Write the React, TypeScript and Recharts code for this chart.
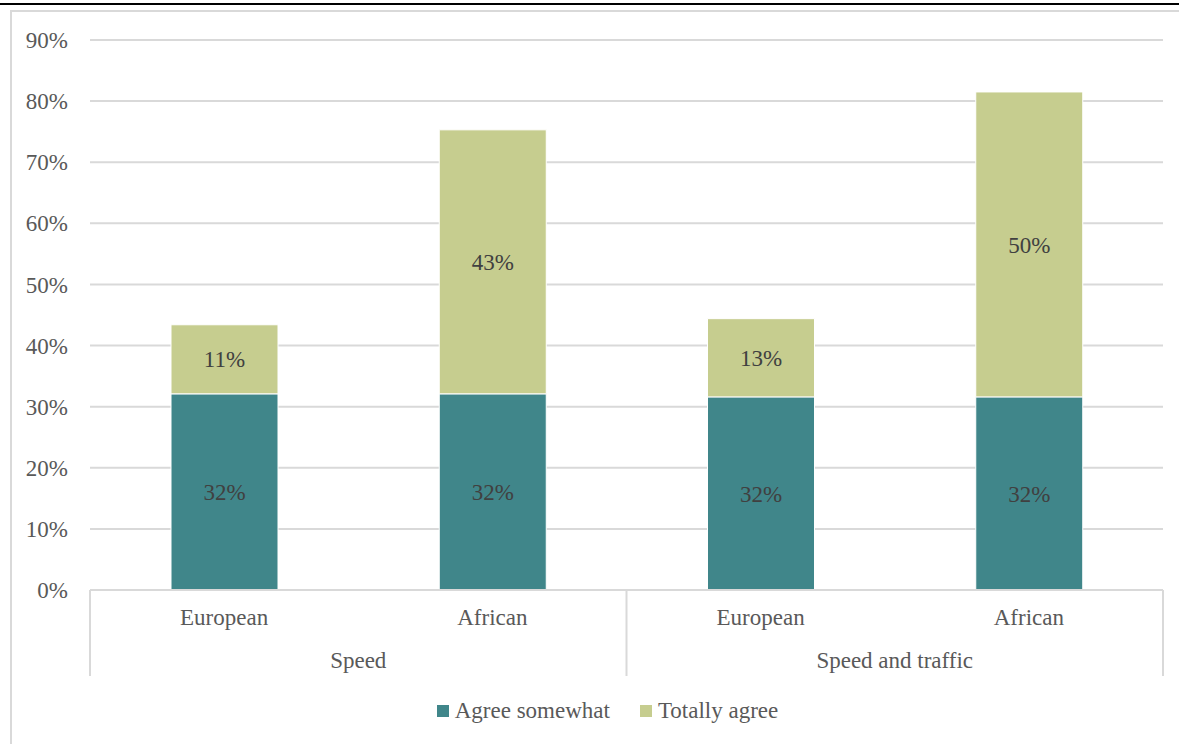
import React from "react";
import { BarChart, Bar, XAxis, YAxis, CartesianGrid, LabelList, Legend } from "recharts";

// categories (two-level axis: group / origin)
const groups = ["Speed", "Speed", "Speed and traffic", "Speed and traffic"];
const origins = ["European", "African", "European", "African"];
// series values, as fractions
const agreeSomewhat = [0.321, 0.321, 0.316, 0.316];
const totallyAgree = [0.113, 0.432, 0.128, 0.499];
const yTicks = [0, 0.1, 0.2, 0.3, 0.4, 0.5, 0.6, 0.7, 0.8, 0.9];

const W = 1179;
const H = 744;
const FONT = "'Liberation Serif', 'DejaVu Serif', serif";
const FS = 23;
const TEAL = "#40868A";
const OLIVE = "#C6CD8F";
const GRID = "#D9D9D9";
const TXT = "#595959";

const X_H = 86;
const LEG_H = 40;
const M = { top: 40, right: 16, left: 0, bottom: 744 - 590 - X_H - LEG_H };
const Y_W = 90;
const BAND = (W - M.left - Y_W - M.right) / origins.length;

const data = origins.map((o, i) => ({
  origin: o,
  group: groups[i],
  agree: agreeSomewhat[i],
  total: totallyAgree[i],
}));

const pct = (v: number) => Math.round(v * 100) + "%";

function XTick(props: any) {
  const { x, y, payload, index } = props;
  const i = index as number;
  const first = i === 0 || groups[i] !== groups[i - 1];
  const last = i === groups.length - 1;
  return (
    <g>
      <text x={x} y={y + 27} textAnchor="middle" fill={TXT} fontSize={FS} fontFamily={FONT}>
        {payload.value}
      </text>
      {first && (
        <>
          <line x1={x - BAND / 2} y1={y - 8} x2={x - BAND / 2} y2={y + X_H - 8} stroke={GRID} strokeWidth={2} />
          <text x={x + BAND / 2} y={y + 70} textAnchor="middle" fill={TXT} fontSize={FS} fontFamily={FONT}>
            {groups[i]}
          </text>
        </>
      )}
      {last && <line x1={x + BAND / 2} y1={y - 8} x2={x + BAND / 2} y2={y + X_H - 8} stroke={GRID} strokeWidth={2} />}
    </g>
  );
}

function LegendContent() {
  const items = [
    { name: "Agree somewhat", color: TEAL },
    { name: "Totally agree", color: OLIVE },
  ];
  return (
    <div style={{ display: "flex", justifyContent: "center", gap: 30, fontFamily: FONT, fontSize: FS, color: TXT, paddingTop: 22, paddingLeft: 52 }}>
      {items.map((it) => (
        <div key={it.name} style={{ display: "flex", alignItems: "center" }}>
          <span style={{ width: 12, height: 12, background: it.color, marginRight: 6, display: "inline-block" }} />
          {it.name}
        </div>
      ))}
    </div>
  );
}

export default function App() {
  return (
    <div style={{ position: "absolute", left: 0, top: 0, width: W, height: H, background: "#fff", overflow: "hidden" }}>
      <div style={{ position: "absolute", left: 0, top: 3, width: W, height: 2, background: "#000" }} />
      <div
        style={{
          position: "absolute",
          left: 10,
          top: 10,
          width: W,
          height: H,
          border: `2px solid ${GRID}`,
        }}
      />
      <div style={{ position: "absolute", left: 0, top: 0 }}>
        <BarChart width={W} height={H} data={data} margin={M}>
          <CartesianGrid vertical={false} stroke={GRID} strokeWidth={2} />
          <XAxis
            dataKey="origin"
            height={X_H}
            axisLine={{ stroke: GRID, strokeWidth: 2 }}
            tickLine={false}
            interval={0}
            tick={<XTick />}
          />
          <YAxis
            width={Y_W}
            domain={[0, 0.9]}
            ticks={yTicks}
            tickFormatter={pct}
            axisLine={false}
            tickLine={false}
            tick={{ fill: TXT, fontSize: FS, fontFamily: FONT }}
            tickMargin={16}
          />
          <Legend verticalAlign="bottom" height={LEG_H} content={<LegendContent />} />
          <Bar dataKey="agree" name="Agree somewhat" stackId="a" fill={TEAL} stroke="#fff" strokeWidth={1} barSize={107} isAnimationActive={false}>
            <LabelList dataKey="agree" position="center" formatter={(v: any) => pct(Number(v))} fill="#404040" fontSize={FS} fontFamily={FONT} />
          </Bar>
          <Bar dataKey="total" name="Totally agree" stackId="a" fill={OLIVE} stroke="#fff" strokeWidth={1} barSize={107} isAnimationActive={false}>
            <LabelList dataKey="total" position="center" formatter={(v: any) => pct(Number(v))} fill="#404040" fontSize={FS} fontFamily={FONT} />
          </Bar>
        </BarChart>
      </div>
    </div>
  );
}
